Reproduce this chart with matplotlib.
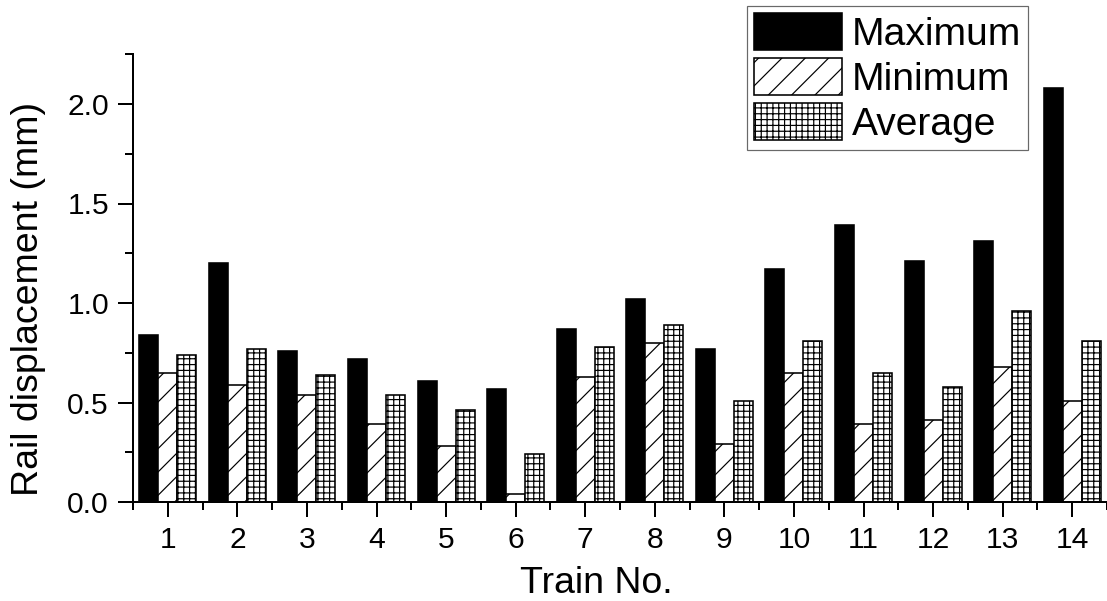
import matplotlib
matplotlib.use("Agg")
import matplotlib.pyplot as plt
import numpy as np
from matplotlib.ticker import MultipleLocator, FixedLocator, FormatStrFormatter

trains = [str(i) for i in range(1, 15)]
maximum = [0.84, 1.20, 0.76, 0.72, 0.61, 0.57, 0.87, 1.02, 0.77, 1.17, 1.39, 1.21, 1.31, 2.08]
minimum = [0.65, 0.59, 0.54, 0.39, 0.28, 0.04, 0.63, 0.80, 0.29, 0.65, 0.39, 0.41, 0.68, 0.51]
average = [0.74, 0.77, 0.64, 0.54, 0.46, 0.24, 0.78, 0.89, 0.51, 0.81, 0.65, 0.58, 0.96, 0.81]
series_names = ["Maximum", "Minimum", "Average"]

DPI = 140
W, H = 1107, 601


def P(px):
    return px * 72.0 / DPI


plt.rcParams['font.family'] = ['Liberation Sans', 'DejaVu Sans']
plt.rcParams['hatch.linewidth'] = P(1.2)
plt.rcParams['hatch.color'] = 'black'

fig = plt.figure(figsize=(W / DPI, H / DPI), dpi=DPI)
ax_left, ax_bottom_px, ax_top_px = 133, 502, 54.25
ax = fig.add_axes([ax_left / W, (H - ax_bottom_px) / H, (W - ax_left) / W,
                   (ax_bottom_px - ax_top_px) / H])

x = np.arange(1, len(trains) + 1)
bw = 0.273
bar_kw = dict(edgecolor='black', linewidth=P(1.6), zorder=2)
ax.bar(x - bw, maximum, bw, color='black', label=series_names[0], **bar_kw)
ax.bar(x, minimum, bw, color='white', hatch='//', label=series_names[1], **bar_kw)
ax.bar(x + bw, average, bw, color='white', hatch='++++', label=series_names[2], **bar_kw)

ax.set_xlim(0.5, 14.5)
ax.set_ylim(0, 2.25)

ax.set_xticks(x)
ax.set_xticklabels(trains)
ax.xaxis.set_minor_locator(FixedLocator(np.arange(0.5, 15, 1.0)))
ax.yaxis.set_major_locator(MultipleLocator(0.5))
ax.yaxis.set_minor_locator(MultipleLocator(0.25))
ax.yaxis.set_major_formatter(FormatStrFormatter('%.1f'))

for s in ['top', 'right']:
    ax.spines[s].set_visible(False)
for s in ['left', 'bottom']:
    ax.spines[s].set_linewidth(P(2))

ax.tick_params(which='major', direction='out', length=P(15), width=P(2),
               labelsize=P(30), pad=P(9))
ax.tick_params(which='minor', direction='out', length=P(8), width=P(2))

ax_w = W - ax_left
ax_h = ax_bottom_px - ax_top_px
ax.set_xlabel('Train No.', fontsize=P(37.5), labelpad=P(12))
ax.xaxis.label.set_x((596 - ax_left) / ax_w)
ax.set_ylabel('Rail displacement (mm)', fontsize=P(37.5))
ax.yaxis.set_label_coords((46 - ax_left) / ax_w, (ax_bottom_px - 299) / ax_h)

fs = 39
leg = ax.legend(loc='upper right', bbox_to_anchor=(1028 / W, 1 - 6 / H),
                bbox_transform=fig.transFigure, fontsize=P(fs),
                frameon=True, fancybox=False, shadow=False,
                handlelength=88 / fs, handleheight=42 / fs,
                handletextpad=10 / fs, labelspacing=0.14,
                borderpad=0.18, borderaxespad=0)
leg.get_frame().set_edgecolor('#444444')
leg.get_frame().set_linewidth(P(1.2))

fig.savefig('out.png', dpi=DPI)
